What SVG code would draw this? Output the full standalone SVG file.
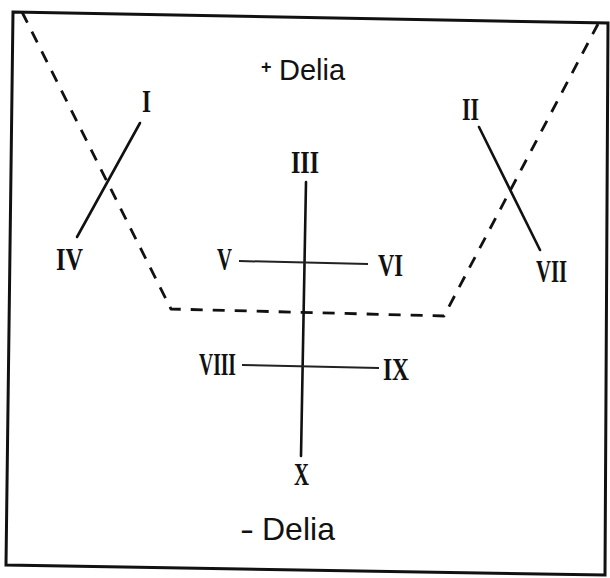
<svg xmlns="http://www.w3.org/2000/svg" width="610" height="578" viewBox="0 0 610 578">
<style>
.frame{fill:none;stroke:#111;stroke-width:3;stroke-linejoin:miter}
.solid{fill:none;stroke:#111;stroke-width:2.6;stroke-linecap:round}
.thin{fill:none;stroke:#222;stroke-width:2}
.dash{fill:none;stroke:#111;stroke-width:2.8;stroke-dasharray:12 10;stroke-linejoin:round}
.num{font-family:"Liberation Serif","Times New Roman",serif;font-size:31px;font-weight:bold;fill:#111}
.lab{font-family:"Liberation Sans",Arial,sans-serif;fill:#111}
</style>
<rect width="610" height="578" fill="#fff"/>
<polygon class="frame" points="13,12 608,23 605,575 6,565"/>
<g id="boundary">
<polyline class="dash" points="22,12 171,309 444,316 598,24"/>
</g>
<g id="connectors">
<line class="solid" x1="140" y1="123" x2="77" y2="237"/>
<line class="solid" x1="479" y1="127" x2="540" y2="250"/>
<line class="solid" x1="306" y1="182" x2="301" y2="456"/>
<line class="thin" x1="239" y1="261" x2="368" y2="264"/>
<line class="thin" x1="242" y1="365" x2="379" y2="368"/>
</g>
<g id="n1"><text class="num" x="142" y="112" textLength="9" lengthAdjust="spacingAndGlyphs">I</text></g>
<g id="n2"><text class="num" x="462" y="120" textLength="17" lengthAdjust="spacingAndGlyphs">II</text></g>
<g id="n3"><text class="num" x="291" y="173" textLength="28" lengthAdjust="spacingAndGlyphs">III</text></g>
<g id="n4"><text class="num" x="56" y="270" textLength="27" lengthAdjust="spacingAndGlyphs">IV</text></g>
<g id="n5"><text class="num" x="217" y="270" textLength="15" lengthAdjust="spacingAndGlyphs">V</text></g>
<g id="n6"><text class="num" x="378" y="276" textLength="25" lengthAdjust="spacingAndGlyphs">VI</text></g>
<g id="n7"><text class="num" x="536" y="282" textLength="31" lengthAdjust="spacingAndGlyphs">VII</text></g>
<g id="n8"><text class="num" x="199" y="375" textLength="37" lengthAdjust="spacingAndGlyphs">VIII</text></g>
<g id="n9"><text class="num" x="383" y="380" textLength="26" lengthAdjust="spacingAndGlyphs">IX</text></g>
<g id="n10"><text class="num" x="294" y="485" textLength="15" lengthAdjust="spacingAndGlyphs">X</text></g>
<g id="plus-delia"><text class="lab" font-size="29"><tspan x="261" y="73" font-size="18" font-weight="bold">+</tspan><tspan x="279" y="80">Delia</tspan></text></g>
<g id="minus-delia"><text class="lab" font-size="32"><tspan x="240" y="540" textLength="14" lengthAdjust="spacingAndGlyphs">-</tspan><tspan x="262" y="540">Delia</tspan></text></g>
</svg>
